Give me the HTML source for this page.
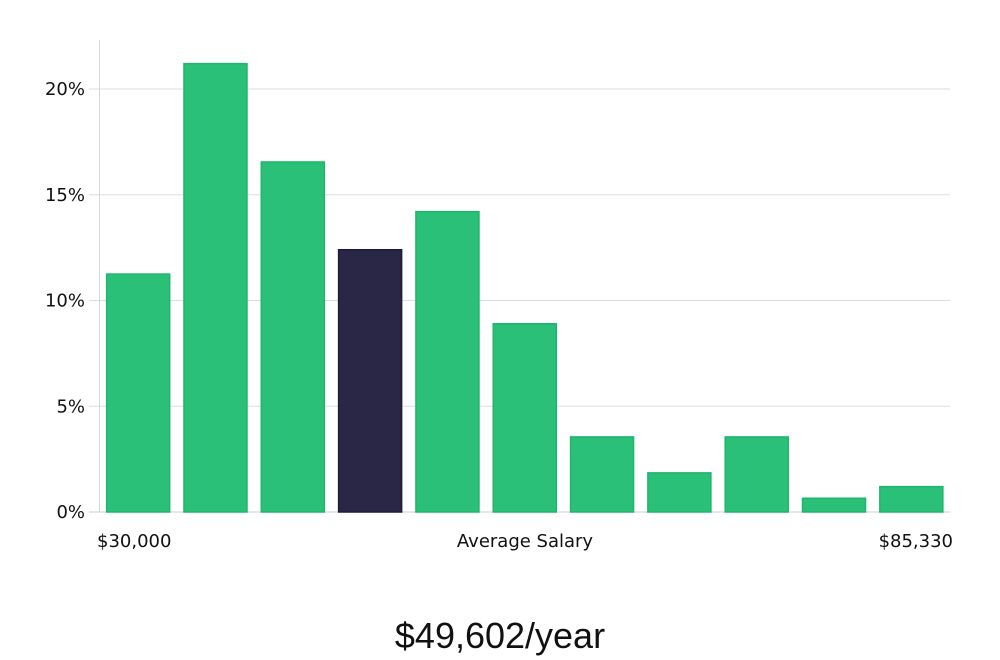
<!DOCTYPE html>
<html><head><meta charset="utf-8"><style>
html,body{margin:0;padding:0;background:#fff;width:1000px;height:660px;overflow:hidden}
svg{display:block;font-family:"DejaVu Sans","Liberation Sans",sans-serif}
</style></head><body>
<svg id="chart" width="1000" height="660"></svg>
<script>
const categories=["b1","b2","b3","b4","b5","b6","b7","b8","b9","b10","b11"];
const values=[11.25,21.2,16.55,12.4,14.2,8.9,3.55,1.85,3.55,0.65,1.2];
const highlightIndex=3;
const yTicks=[0,5,10,15,20];
const yTickLabels=["0%","5%","10%","15%","20%"];
const xLabels=["$30,000","Average Salary","$85,330"];
const salaryText="$49,602/year";

const NS="http://www.w3.org/2000/svg";
const svg=document.getElementById('chart');
const x0=99.5,x1=950,y0=512,yTop=40;
const pxPerPct=(512-89)/20;
const y=v=>y0-v*pxPerPct;
const band=(x1-x0)/categories.length;
const xb=i=>x0+i*band;
function mk(t,a){const e=document.createElementNS(NS,t);for(const k in a)e.setAttribute(k,a[k]);svg.appendChild(e);return e;}

yTicks.forEach((t,i)=>{
  const g=mk('line',{x1:89,x2:x1,y1:y(t),y2:y(t),stroke:t===0?'#cccccc':'#dddddd','stroke-width':1});
  
  
  const l=mk('text',{x:85,y:y(t)+6,'text-anchor':'end','font-size':18,fill:'#111'});
  l.textContent=yTickLabels[i];
  
  
});
const ax=mk('line',{x1:x0,x2:x0,y1:yTop,y2:y0,stroke:'#d6d6d6','stroke-width':1});



values.forEach((v,i)=>{
  const w=band*0.815;
  const r=mk('rect',{x:xb(i)+(band-w)/2,y:y(v),width:w,height:y0-y(v),
    fill:i===highlightIndex?'#2a2746':'#2bc077',stroke:i===highlightIndex?'#1e1b3a':'#20b56c','stroke-width':1.5});
  
  
});

const xl=[[97,'start'],[525,'middle'],[953,'end']];
xLabels.forEach((s,i)=>{
  const t=mk('text',{x:xl[i][0],y:547,'text-anchor':xl[i][1],'font-size':18,fill:'#111'});
  t.textContent=s;
  
  
});
const st=mk('text',{x:500,y:648,'text-anchor':'middle','font-size':36,fill:'#111','font-family':'"Liberation Sans Narrow","Liberation Sans",sans-serif'});
st.textContent=salaryText;


</script>
</body></html>
